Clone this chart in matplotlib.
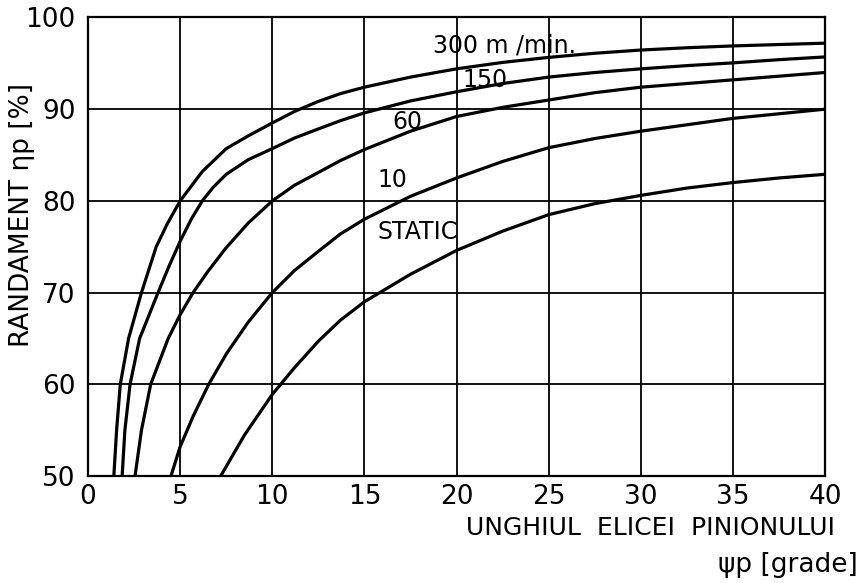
import matplotlib
matplotlib.use("Agg")
import matplotlib.pyplot as plt

plt.rcParams['font.family'] = ['DejaVu Sans']

# Data
x_300 = [1.4, 1.55, 1.75, 2.2, 2.9, 3.7, 4.3, 5, 6.2, 7.5, 8.7, 10, 11.2, 12.5, 13.7,
         15, 17.5, 20, 22.5, 25, 27.5, 30, 32.5, 35, 37.5, 40]
y_300 = [50, 55, 60, 65, 70, 75, 77.5, 80, 83.2, 85.7, 87.1, 88.5, 89.75, 90.85, 91.7,
         92.4, 93.5, 94.4, 95.1, 95.65, 96.1, 96.45, 96.7, 96.9, 97.05, 97.2]

x_150 = [1.85, 2.0, 2.28, 2.8, 3.8, 4.4, 5, 5.6, 6.2, 6.8, 7.5, 8.7, 10, 11.2, 12.5,
         13.7, 15, 17.5, 20, 22.5, 25, 27.5, 30, 32.5, 35, 37.5, 40]
y_150 = [50, 55, 60, 65, 70, 72.9, 75.6, 78, 80, 81.5, 82.9, 84.5, 85.7, 86.85, 87.85,
         88.75, 89.6, 90.9, 91.9, 92.8, 93.5, 94.0, 94.4, 94.75, 95.05, 95.4, 95.7]

x_60 = [2.55, 2.9, 3.4, 4.35, 5, 5.7, 6.5, 7.5, 8.7, 10, 11.2, 12.5, 13.7, 15, 17.5,
        20, 22.5, 25, 27.5, 30, 32.5, 35, 37.5, 40]
y_60 = [50, 55, 60, 65, 67.6, 70, 72.3, 74.9, 77.6, 80, 81.7, 83.1, 84.4, 85.6, 87.6,
        89.2, 90.2, 91.0, 91.8, 92.4, 92.8, 93.2, 93.6, 94.0]

x_10 = [4.5, 5, 5.7, 6.55, 7.5, 8.7, 10, 11.2, 12.5, 13.7, 15, 17.5, 20, 22.5, 25,
        27.5, 30, 32.5, 35, 37.5, 40]
y_10 = [50, 53.2, 56.5, 60, 63.3, 66.8, 70, 72.4, 74.5, 76.4, 78.0, 80.5, 82.5, 84.3, 85.8,
        86.8, 87.6, 88.3, 89.0, 89.5, 90.0]

x_static = [7.2, 8.5, 10, 11.2, 12.5, 13.7, 15, 17.5, 20, 22.5, 25, 27.5, 30, 32.5,
            35, 37.5, 40]
y_static = [50, 54.5, 58.9, 61.8, 64.7, 67.0, 69.0, 72.0, 74.6, 76.7, 78.5, 79.7, 80.6, 81.4,
            82.0, 82.5, 82.9]

curve_labels = ["300 m /min.", "150", "60", "10", "STATIC"]
label_pos_x = [18.7, 20.3, 16.5, 15.7, 15.7]
label_pos_y = [97.0, 93.2, 88.6, 82.3, 76.6]

x_ticks = [0, 5, 10, 15, 20, 25, 30, 35, 40]
y_ticks = [50, 60, 70, 80, 90, 100]

fig = plt.figure(figsize=(8.64, 5.83), dpi=100)
ax = fig.add_axes([0.1019, 0.1835, 0.853, 0.7865])

for xs, ys in [(x_300, y_300), (x_150, y_150), (x_60, y_60), (x_10, y_10), (x_static, y_static)]:
    ax.plot(xs, ys, color='black', lw=2.3, solid_joinstyle='round', zorder=3)

for t, lx, ly in zip(curve_labels, label_pos_x, label_pos_y):
    ax.text(lx, ly, t, fontsize=17, ha='left', va='center', color='black', zorder=4)

ax.set_xlim(0, 40)
ax.set_ylim(50, 100)
ax.set_xticks(x_ticks)
ax.set_yticks(y_ticks)
ax.set_xticklabels([str(v) for v in x_ticks])
ax.set_yticklabels([str(v) for v in y_ticks])
ax.tick_params(axis='both', length=0, labelsize=19)
ax.tick_params(axis='x', pad=6)
ax.tick_params(axis='y', pad=9)
ax.grid(True, color='black', lw=1.3)
ax.set_axisbelow(True)
for s in ax.spines.values():
    s.set_linewidth(1.6)
    s.set_color('black')

fig.text(22 / 864, 1 - 215 / 583, "RANDAMENT ηp [%]", rotation=90, fontsize=19,
         ha='center', va='center')
fig.text(835 / 864, 1 - 528 / 583, "UNGHIUL  ELICEI  PINIONULUI", fontsize=18,
         ha='right', va='center')
fig.text(858 / 864, 1 - 565 / 583, "ψp [grade]", fontsize=19, ha='right', va='center')

fig.savefig("out.png", dpi=100, facecolor='white')
